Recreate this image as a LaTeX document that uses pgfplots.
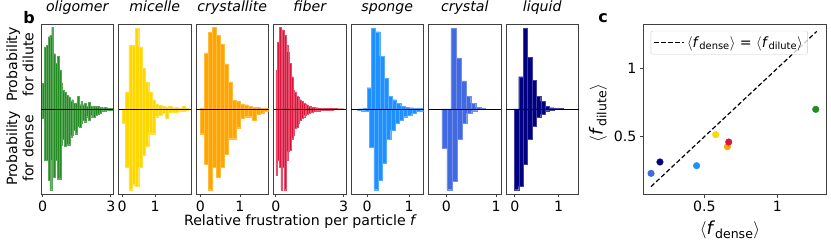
\documentclass[border=0pt]{standalone}
\usepackage{fontspec}
\setmainfont{DejaVu Sans}
\usepackage{pgfplots}
\pgfplotsset{compat=1.18}

\definecolor{cgreen}{RGB}{34,139,34}
\definecolor{cgold}{RGB}{255,215,0}
\definecolor{corange}{RGB}{255,165,0}
\definecolor{ccrimson}{RGB}{220,20,60}
\definecolor{cdodger}{RGB}{30,144,255}
\definecolor{croyal}{RGB}{65,105,225}
\definecolor{cnavy}{RGB}{0,0,128}

\newcommand\fs{\fontsize{14.2}{16.5}\selectfont}
\newcommand\fl{\fontsize{18}{20}\selectfont}

\pgfplotsset{
 base/.style={scale only axis, anchor=south west, clip mode=individual,
   axis line style={draw=black!75, line width=0.8bp},
   tick align=outside, major tick length=3.5bp,
   tick style={draw=black!75, line width=0.8bp},
   font=\fs, tick label style={font=\fs},
   /pgf/number format/assume math mode=true},
 hpanel/.style={base, width=72.5bp, height=170bp, ymin=-1, ymax=1,
   ytick=\empty, xtick pos=left,
   title style={font=\fs\itshape, anchor=base, yshift=7bp}},
 bars/.style={ybar interval, fill=#1, draw=#1!75!white, line width=0.25bp},
 dashleg/.style={legend image code/.code={\draw[##1] (0bp,0bp) -- (30bp,0bp);}},
}
\newcommand\midline{\draw[black, line width=0.9bp] (axis description cs:0,0.5) -- (axis description cs:1,0.5);}

\begin{document}
\begin{tikzpicture}
\useasboundingbox (0,0) rectangle (831bp,244bp);

% oligomer
\begin{axis}[hpanel, at={(41bp,50bp)}, xmin=-0.07, xmax=3.12, xtick={0,3}, xticklabels={0,3}, title={oligomer}]
\addplot[bars=cgreen] coordinates {(0,0.30)(0.08,0.73)(0.16,0.75)(0.24,0.85)(0.32,0.87)(0.40,0.96)(0.48,0.65)(0.56,0.54)(0.64,0.62)(0.72,0.46)(0.80,0.30)(0.88,0.22)(0.96,0.20)(1.04,0.16)(1.12,0.145)(1.20,0.09)(1.28,0.11)(1.36,0.07)(1.44,0.07)(1.52,0.15)(1.60,0.05)(1.68,0.09)(1.76,0.05)(1.84,0.07)(1.92,0.035)(2.00,0.075)(2.08,0.03)(2.16,0.035)(2.24,0.03)(2.32,0.035)(2.40,0.03)(2.48,0.02)(2.56,0.02)(2.64,0.015)(2.72,0.02)(2.80,0.015)(2.88,0.01)(2.96,0.01)(3.04,0)};
\addplot[bars=cgreen] coordinates {(0,-0.11)(0.08,-0.60)(0.16,-0.60)(0.24,-0.84)(0.32,-0.95)(0.40,-0.60)(0.48,-0.80)(0.56,-0.60)(0.64,-0.82)(0.72,-0.82)(0.80,-0.42)(0.88,-0.36)(0.96,-0.44)(1.04,-0.42)(1.12,-0.42)(1.20,-0.33)(1.28,-0.31)(1.36,-0.25)(1.44,-0.29)(1.52,-0.20)(1.60,-0.21)(1.68,-0.17)(1.76,-0.13)(1.84,-0.15)(1.92,-0.09)(2.00,-0.13)(2.08,-0.09)(2.16,-0.07)(2.24,-0.10)(2.32,-0.07)(2.40,-0.06)(2.48,-0.05)(2.56,-0.03)(2.64,-0.02)(2.72,-0.02)(2.80,-0.015)(2.88,-0.01)(2.96,-0.01)(3.04,0)};
\midline
\end{axis}

% micelle
\begin{axis}[hpanel, at={(118.5bp,50bp)}, xmin=-0.11, xmax=2.08, xtick={0,1}, xticklabels={0,1}, title={micelle}]
\addplot[bars=cgold] coordinates {(0,0)(0.1,0.2)(0.2,0.75)(0.3,0.75)(0.4,0.95)(0.5,0.73)(0.6,0.48)(0.7,0.32)(0.8,0.2)(0.9,0.11)(1.0,0.06)(1.1,0.04)(1.2,0.035)(1.3,0.025)(1.4,0.03)(1.5,0.015)(1.6,0.02)(1.7,0.01)(1.8,0.03)(1.9,0.005)(2.0,0)};
\addplot[bars=cgold] coordinates {(0,-0.17)(0.1,-0.68)(0.2,-0.95)(0.3,-0.89)(0.4,-0.91)(0.5,-0.68)(0.6,-0.54)(0.7,-0.44)(0.8,-0.29)(0.9,-0.29)(1.0,-0.09)(1.1,-0.07)(1.2,-0.05)(1.3,-0.11)(1.4,-0.04)(1.5,-0.04)(1.6,-0.04)(1.7,-0.02)(1.8,-0.02)(1.9,-0.01)(2.0,0)};
\midline
\end{axis}

% crystallite
\begin{axis}[hpanel, at={(196bp,50bp)}, xmin=-0.11, xmax=1.72, xtick={0,1}, xticklabels={0,1}, title={crystallite}]
\addplot[bars=corange] coordinates {(0,0.01)(0.1,0.66)(0.2,0.9)(0.3,0.96)(0.4,0.87)(0.5,0.76)(0.6,0.53)(0.7,0.32)(0.8,0.1)(0.9,0.09)(1.0,0.06)(1.1,0.05)(1.2,0.035)(1.3,0.02)(1.4,0.02)(1.5,0.01)(1.6,0.01)(1.7,0)};
\addplot[bars=corange] coordinates {(0,-0.29)(0.1,-0.65)(0.2,-0.95)(0.3,-0.68)(0.4,-0.8)(0.5,-0.68)(0.6,-0.53)(0.7,-0.35)(0.8,-0.35)(0.9,-0.22)(1.0,-0.11)(1.1,-0.09)(1.2,-0.09)(1.3,-0.13)(1.4,-0.06)(1.5,-0.05)(1.6,-0.03)(1.7,0)};
\midline
\end{axis}

% fiber
\begin{axis}[hpanel, at={(273.5bp,50bp)}, xmin=-0.1, xmax=3.1, xtick={0,3}, xticklabels={0,3}, title={fiber}]
\addplot[bars=ccrimson] coordinates {(0,0.46)(0.075,0.79)(0.15,0.96)(0.225,0.89)(0.3,0.93)(0.375,0.87)(0.45,0.75)(0.525,0.67)(0.6,0.54)(0.675,0.38)(0.75,0.22)(0.825,0.20)(0.9,0.15)(0.975,0.14)(1.05,0.11)(1.125,0.09)(1.2,0.07)(1.275,0.06)(1.35,0.05)(1.425,0.035)(1.5,0.03)(1.575,0.02)(1.65,0.02)(1.725,0.015)(1.8,0.015)(1.875,0.01)(1.95,0.01)(2.025,0.01)(2.1,0.01)(2.175,0.01)(2.25,0.008)(2.325,0.008)(2.4,0.006)(2.475,0.006)(2.55,0.005)(2.625,0.005)(2.7,0.004)(2.775,0.004)(2.85,0.003)(2.925,0.003)(3.0,0)};
\addplot[bars=ccrimson] coordinates {(0,-0.78)(0.075,-0.60)(0.15,-0.68)(0.225,-0.95)(0.3,-0.68)(0.375,-0.95)(0.45,-0.60)(0.525,-0.50)(0.6,-0.48)(0.675,-0.35)(0.75,-0.31)(0.825,-0.23)(0.9,-0.21)(0.975,-0.17)(1.05,-0.13)(1.125,-0.11)(1.2,-0.09)(1.275,-0.07)(1.35,-0.06)(1.425,-0.05)(1.5,-0.04)(1.575,-0.035)(1.65,-0.03)(1.725,-0.025)(1.8,-0.02)(1.875,-0.02)(1.95,-0.015)(2.025,-0.015)(2.1,-0.01)(2.175,-0.01)(2.25,-0.01)(2.325,-0.01)(2.4,-0.008)(2.475,-0.008)(2.55,-0.006)(2.625,-0.006)(2.7,-0.005)(2.775,-0.005)(2.85,-0.004)(2.925,-0.004)(3.0,0)};
\midline
\end{axis}

% sponge
\begin{axis}[hpanel, at={(351bp,50bp)}, xmin=-0.38, xmax=1.34, xtick={0,1}, xticklabels={0,1}, title={sponge}]
\addplot[bars=cdodger] coordinates {(-0.2,0.002)(-0.1,0.005)(0.0,0.25)(0.1,0.95)(0.2,0.91)(0.3,0.62)(0.4,0.36)(0.5,0.15)(0.6,0.11)(0.7,0.07)(0.8,0.035)(0.9,0.02)(1.0,0.015)(1.1,0.01)(1.2,0.005)(1.3,0)};
\addplot[bars=cdodger] coordinates {(-0.24,-0.01)(-0.14,-0.02)(-0.04,-0.03)(0.06,-0.45)(0.16,-0.95)(0.26,-0.84)(0.36,-0.64)(0.46,-0.36)(0.56,-0.25)(0.66,-0.17)(0.76,-0.13)(0.86,-0.09)(0.96,-0.07)(1.06,-0.05)(1.16,-0.03)(1.26,-0.02)(1.36,0)};
\midline
\end{axis}

% crystal
\begin{axis}[hpanel, at={(428.5bp,50bp)}, xmin=-0.36, xmax=1.1, xtick={0,1}, xticklabels={0,1}, title={crystal}]
\addplot[bars=croyal] coordinates {(0.09,0.95)(0.19,0.6)(0.29,0.33)(0.39,0.15)(0.49,0.07)(0.59,0.02)(0.69,0.005)(0.79,0)};
\addplot[bars=croyal] coordinates {(-0.09,-0.46)(0.01,-0.95)(0.11,-0.85)(0.21,-0.36)(0.31,-0.17)(0.41,-0.05)(0.51,-0.02)(0.61,0)};
\midline
\end{axis}

% liquid
\begin{axis}[hpanel, at={(506bp,50bp)}, xmin=-0.2, xmax=1.45, xtick={0,1}, xticklabels={0,1}, title={liquid}]
\addplot[bars=cnavy] coordinates {(0.09,0.38)(0.19,0.95)(0.29,0.61)(0.39,0.34)(0.49,0.15)(0.59,0.09)(0.69,0.035)(0.79,0.015)(0.89,0.005)(0.99,0.005)(1.09,0)};
\addplot[bars=cnavy] coordinates {(-0.01,-0.95)(0.09,-0.91)(0.19,-0.65)(0.29,-0.36)(0.39,-0.2)(0.49,-0.1)(0.59,-0.06)(0.69,-0.02)(0.79,-0.01)(0.89,0)};
\midline
\end{axis}

\node[rotate=90, align=center, font=\fs] at (20bp,179.5bp) {Probability\\for dilute};
\node[rotate=90, align=center, font=\fs] at (20bp,95.5bp) {Probability\\for dense};
\node[font=\fs] at (300.5bp,22bp) {Relative frustration per particle \textit{f}};
\node[font=\fontsize{16}{18}\selectfont\bfseries] at (29bp,226bp) {b};
\node[font=\fontsize{16}{18}\selectfont\bfseries] at (603bp,226bp) {c};
\node[font=\fl] at (730bp,14bp) {$\langle$\textit{f}\textsubscript{dense}$\rangle$};
\node[font=\fl, rotate=90] at (598bp,131bp) {$\langle$\textit{f}\textsubscript{dilute}$\rangle$};

% panel c
\begin{axis}[base, at={(643.3bp,50bp)}, width=183.4bp, height=170bp,
  xmin=0.082, xmax=1.338, ymin=0.081, ymax=1.324,
  xtick={0.5,1}, xticklabels={0.5,1}, ytick={0.5,1}, yticklabels={0.5,1},
  xtick pos=left, ytick pos=left,
  legend style={at={(0.04,0.96)}, anchor=north west, draw=black!20, rounded corners=2bp,
    fill=white, fill opacity=0.8, text opacity=1, font=\fs,
    inner xsep=3bp, inner ysep=3.5bp},
  legend cell align=left]
\addplot[black, line width=1.2bp, dash pattern=on 4.5bp off 2.5bp, dashleg]
  coordinates {(0.135,0.135) (1.27,1.27)};
\addlegendentry{$\langle$\textit{f}\textsubscript{dense}$\rangle$ = $\langle$\textit{f}\textsubscript{dilute}$\rangle$}
\addplot[forget plot, only marks, mark=*, mark size=3.3bp, croyal] coordinates {(0.135,0.232)};
\addplot[forget plot, only marks, mark=*, mark size=3.3bp, cnavy] coordinates {(0.196,0.315)};
\addplot[forget plot, only marks, mark=*, mark size=3.3bp, cdodger] coordinates {(0.447,0.288)};
\addplot[forget plot, only marks, mark=*, mark size=3.3bp, cgold] coordinates {(0.578,0.515)};
\addplot[forget plot, only marks, mark=*, mark size=3.3bp, corange] coordinates {(0.658,0.427)};
\addplot[forget plot, only marks, mark=*, mark size=3.3bp, ccrimson] coordinates {(0.667,0.461)};
\addplot[forget plot, only marks, mark=*, mark size=3.3bp, cgreen] coordinates {(1.263,0.70)};
\end{axis}
\end{tikzpicture}
\end{document}
